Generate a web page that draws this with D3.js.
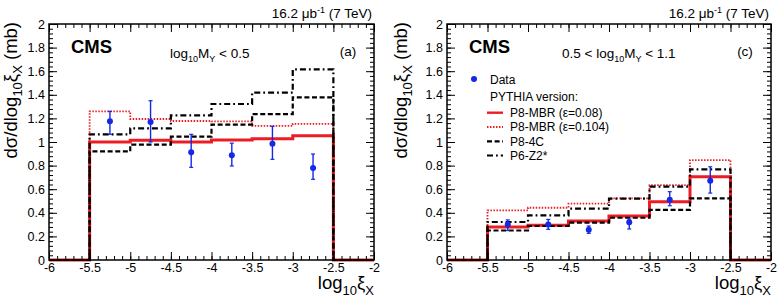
<!DOCTYPE html>
<html>
<head>
<meta charset="utf-8">
<script src="https://cdn.jsdelivr.net/npm/d3@7"></script>
<style>
  body { margin: 0; background: #fff; }
  svg { display: block; font-family: "Liberation Sans", Arial, Helvetica, sans-serif; }
</style>
</head>
<body>
<svg id="chart" width="780" height="306"></svg>
<script>
// bin edges and tick values
const binEdges = [-6, -5.5, -5, -4.5, -4, -3.5, -3, -2.5, -2];
const xTicks = [-6, -5.5, -5, -4.5, -4, -3.5, -3, -2.5, -2];
const yTicks = [0, 0.2, 0.4, 0.6, 0.8, 1, 1.2, 1.4, 1.6, 1.8, 2];
const pointX = [-5.25, -4.75, -4.25, -3.75, -3.25, -2.75];

// panel (a): log10 MY < 0.5
const mbr008A = [0, 1.0, 1.015, 1.0, 1.017, 1.028, 1.053, 0];
const mbr0104A = [0, 1.26, 1.195, 1.178, 1.175, 1.136, 1.153, 0];
const p84cA = [0, 0.92, 0.977, 1.045, 1.147, 1.237, 1.378, 0];
const p6z2A = [0, 1.065, 1.116, 1.226, 1.322, 1.418, 1.616, 0];
const dataA = [1.175, 1.17, 0.913, 0.887, 0.986, 0.78];
const dataHiA = [1.26, 1.35, 1.065, 0.99, 1.133, 0.898];
const dataLoA = [1.065, 1.0, 0.785, 0.797, 0.853, 0.684];

// panel (c): 0.5 < log10 MY < 1.1
const mbr008C = [0, 0.28, 0.294, 0.33, 0.373, 0.494, 0.706, 0];
const mbr0104C = [0, 0.42, 0.443, 0.477, 0.523, 0.634, 0.847, 0];
const p84cC = [0, 0.25, 0.288, 0.316, 0.358, 0.424, 0.523, 0];
const p6z2C = [0, 0.322, 0.378, 0.435, 0.52, 0.622, 0.768, 0];
const dataC = [0.30, 0.30, 0.257, 0.32, 0.51, 0.672];
const dataHiC = [0.34, 0.344, 0.288, 0.347, 0.579, 0.79];
const dataLoC = [0.25, 0.26, 0.226, 0.263, 0.46, 0.567];

const modelNames = ["P8-MBR (\u03b5=0.08)", "P8-MBR (\u03b5=0.104)", "P8-4C", "P6-Z2*"];

const RED = "#ec1c24";
const BLUE = "#1428e6";
const modelStyles = [
  { color: RED, width: 3, dash: null },
  { color: RED, width: 1.8, dash: "1.5 1.5" },
  { color: "#000", width: 2.2, dash: "5 2.6" },
  { color: "#000", width: 2.2, dash: "6 3 1.8 3" },
];

const panels = [
  { left: 49, right: 374, off: 0, label: "(a)", models: [mbr008A, mbr0104A, p84cA, p6z2A],
    data: dataA, hi: dataHiA, lo: dataLoA, legend: false },
  { left: 447, right: 771, off: 390, label: "(c)", models: [mbr008C, mbr0104C, p84cC, p6z2C],
    data: dataC, hi: dataHiC, lo: dataLoC, legend: true },
];

const plotTop = 24, plotBottom = 260;
const svg = d3.select("#chart");
const fmt = d => String(d);

panels.forEach(function (p) {
  const x = d3.scaleLinear().domain([-6, -2]).range([p.left, p.right]);
  const y = d3.scaleLinear().domain([0, 2]).range([plotBottom, plotTop]);
  const g = svg.append("g");

  // histograms
  const step = d3.line()
    .x(function (d) { return x(d[0]); })
    .y(function (d) { return y(d[1]); })
    .curve(d3.curveStepAfter);
  p.models.forEach(function (vals, i) {
    const pts = vals.map(function (v, k) { return [binEdges[k], v]; });
    pts.push([binEdges[binEdges.length - 1], vals[vals.length - 1]]);
    const s = modelStyles[i];
    g.append("path")
      .attr("d", step(pts))
      .attr("fill", "none")
      .attr("stroke", s.color)
      .attr("stroke-width", s.width)
      .attr("stroke-dasharray", s.dash);
  });

  // data points with error bars
  const pts = g.selectAll("g.pt")
    .data(p.data.map(function (v, k) { return { x: pointX[k], v: v, hi: p.hi[k], lo: p.lo[k] }; }))
    .enter().append("g").attr("class", "pt");
  pts.append("line")
    .attr("x1", d => x(d.x)).attr("x2", d => x(d.x))
    .attr("y1", d => y(d.hi)).attr("y2", d => y(d.lo))
    .attr("stroke", BLUE).attr("stroke-width", 1.4);
  ["hi", "lo"].forEach(function (key) {
    pts.append("line")
      .attr("x1", d => x(d.x) - 2).attr("x2", d => x(d.x) + 2)
      .attr("y1", d => y(d[key])).attr("y2", d => y(d[key]))
      .attr("stroke", BLUE).attr("stroke-width", 1.2);
  });
  pts.append("circle")
    .attr("cx", d => x(d.x)).attr("cy", d => y(d.v))
    .attr("r", 3).attr("fill", BLUE);

  // axes, ticks pointing inward on all four sides
  const xMinor = d3.range(-6, -1.99, 0.1);
  const yMinor = d3.range(0, 2.001, 0.04);
  function addAxis(axis, tx, ty, labels) {
    const a = g.append("g").attr("transform", `translate(${tx},${ty})`).call(axis);
    a.select(".domain").remove();
    a.selectAll("line").attr("stroke", "#000").attr("stroke-width", 1);
    a.selectAll("text").attr("font-size", 12.5).attr("fill", "#000")
      .attr("font-family", "Liberation Sans, Arial, sans-serif");
    if (!labels) a.selectAll("text").remove();
    return a;
  }
  addAxis(d3.axisBottom(x).tickValues(xMinor).tickSize(-4).tickSizeOuter(0).tickFormat(""), 0, plotBottom, false);
  addAxis(d3.axisBottom(x).tickValues(xTicks).tickSize(-8).tickSizeOuter(0).tickPadding(3.5).tickFormat(fmt), 0, plotBottom, true);
  addAxis(d3.axisTop(x).tickValues(xMinor).tickSize(-4).tickSizeOuter(0).tickFormat(""), 0, plotTop, false);
  addAxis(d3.axisTop(x).tickValues(xTicks).tickSize(-8).tickSizeOuter(0).tickFormat(""), 0, plotTop, false);
  addAxis(d3.axisLeft(y).tickValues(yMinor).tickSize(-4).tickSizeOuter(0).tickFormat(""), p.left, 0, false);
  addAxis(d3.axisLeft(y).tickValues(yTicks).tickSize(-8).tickSizeOuter(0).tickPadding(4).tickFormat(fmt), p.left, 0, true);
  addAxis(d3.axisRight(y).tickValues(yMinor).tickSize(-4).tickSizeOuter(0).tickFormat(""), p.right, 0, false);
  addAxis(d3.axisRight(y).tickValues(yTicks).tickSize(-8).tickSizeOuter(0).tickFormat(""), p.right, 0, false);

  g.append("rect")
    .attr("x", p.left).attr("y", plotTop)
    .attr("width", p.right - p.left).attr("height", plotBottom - plotTop)
    .attr("fill", "none").attr("stroke", "#000").attr("stroke-width", 1.5);

  // axis titles
  const yt = g.append("text")
    .attr("transform", `translate(${p.off + 17},22) rotate(-90)`)
    .attr("text-anchor", "end").attr("font-size", 18.5).attr("fill", "#000");
  yt.append("tspan").text("d\u03c3/dlog");
  yt.append("tspan").attr("font-size", 13).attr("dy", 5).text("10");
  yt.append("tspan").attr("dy", -5).text("\u03be");
  yt.append("tspan").attr("font-size", 13).attr("dy", 5).text("X");
  yt.append("tspan").attr("dy", -5).text(" (mb)");

  const xt = g.append("text")
    .attr("x", p.right).attr("y", 289)
    .attr("text-anchor", "end").attr("font-size", 18.5).attr("fill", "#000");
  xt.append("tspan").text("log");
  xt.append("tspan").attr("font-size", 13).attr("dy", 6).text("10");
  xt.append("tspan").attr("dy", -6).text("\u03be");
  xt.append("tspan").attr("font-size", 13).attr("dy", 6).text("X");

  // header texts
  const lumi = g.append("text")
    .attr("x", p.right - 2).attr("y", 17.5)
    .attr("text-anchor", "end").attr("font-size", 13.5).attr("fill", "#000");
  lumi.append("tspan").text("16.2 \u03bcb");
  lumi.append("tspan").attr("font-size", 9).attr("dy", -5).text("-1");
  lumi.append("tspan").attr("dy", 5).text(" (7 TeV)");

  g.append("text")
    .attr("x", p.left + 22).attr("y", 53.3)
    .attr("font-size", 18.5).attr("font-weight", "bold").attr("fill", "#000")
    .text("CMS");

  g.append("text")
    .attr("x", p.right - 26).attr("y", 55.5)
    .attr("text-anchor", "middle").attr("font-size", 13.5).attr("fill", "#000")
    .text(p.label);

  const sel = g.append("text")
    .attr("y", 58).attr("font-size", 13.5).attr("fill", "#000");
  if (p.legend) {
    sel.attr("x", p.left + 115);
    sel.append("tspan").text("0.5 < log");
  } else {
    sel.attr("x", p.left + 121);
    sel.append("tspan").text("log");
  }
  sel.append("tspan").attr("font-size", 9).attr("dy", 4).text("10");
  sel.append("tspan").attr("dy", -4).text("M");
  sel.append("tspan").attr("font-size", 9).attr("dy", 4).text("Y");
  sel.append("tspan").attr("dy", -4).text(p.legend ? " < 1.1" : " < 0.5");

  // legend
  if (p.legend) {
    const lx = p.left + 27;
    const lg = g.append("g").attr("font-size", 12).attr("fill", "#000");
    lg.append("circle").attr("cx", lx).attr("cy", 79).attr("r", 3).attr("fill", BLUE);
    lg.append("text").attr("x", lx + 16).attr("y", 83.5).text("Data");
    lg.append("text").attr("x", lx + 16).attr("y", 101).text("PYTHIA version:");
    const rowY = [112.7, 127, 141.3, 155.5];
    modelNames.forEach(function (name, i) {
      const s = modelStyles[i];
      lg.append("line")
        .attr("x1", lx + 13).attr("x2", lx + 29)
        .attr("y1", rowY[i]).attr("y2", rowY[i])
        .attr("stroke", s.color).attr("stroke-width", Math.min(s.width, 2.4))
        .attr("stroke-dasharray", s.dash);
      lg.append("text").attr("x", lx + 36).attr("y", rowY[i] + 4.3).text(name);
    });
  }
});
</script>
</body>
</html>
